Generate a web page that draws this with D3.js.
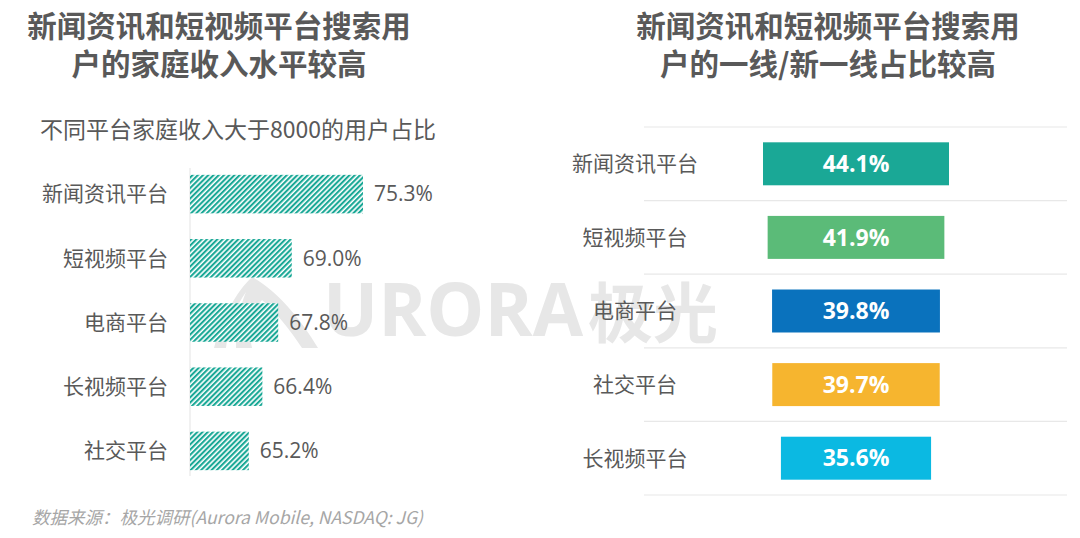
<!DOCTYPE html>
<html>
<head>
<meta charset="utf-8">
<script src="https://cdn.jsdelivr.net/npm/d3@7"></script>
<style>
  html, body { margin: 0; padding: 0; background: #fff; }
  svg { display: block; font-family: "Noto Sans CJK SC", "Noto Sans", sans-serif; }
</style>
</head>
<body>
<div id="chart"></div>
<script>
// left: share of users with household income > 8000
var incomeCats = ['新闻资讯平台', '短视频平台', '电商平台', '长视频平台', '社交平台'];
var incomeVals = [75.3, 69.0, 67.8, 66.4, 65.2];

// right: share of tier-1 / new tier-1 city users
var cityCats = ['新闻资讯平台', '短视频平台', '电商平台', '社交平台', '长视频平台'];
var cityVals = [44.1, 41.9, 39.8, 39.7, 35.6];
var cityColors = ['#1aa896', '#5bbb78', '#0a72bd', '#f6b52f', '#0bb9e2'];

var width = 1080, height = 538;
var textColor = '#595959';

var svg = d3.select('#chart').append('svg').attr('width', width).attr('height', height);

var defs = svg.append('defs');
var pat = defs.append('pattern').attr('id', 'hatch').attr('patternUnits', 'userSpaceOnUse')
    .attr('width', 3.7).attr('height', 3.7).attr('patternTransform', 'rotate(45)');
pat.append('rect').attr('width', 3.7).attr('height', 3.7).attr('fill', '#fff');
pat.append('rect').attr('width', 2.1).attr('height', 3.7).attr('fill', '#1aa896');

// watermark
var wm = svg.append('g').attr('fill', '#e7e7e7');
wm.append('path').attr('d', 'M214,348 C222,318 236,292 252,277 C276,290 300,318 318,348 L302,348 C290,330 276,312 262,300 C252,314 248,330 252,348 L236,348 C236,326 240,306 246,292 C236,306 228,326 226,348 Z');
wm.append('text').attr('x', 323).attr('y', 336).style('font-size', '73px').style('font-weight', 'bold')
    .style('font-family', '"Open Sans", sans-serif').text('URORA');
wm.append('text').attr('x', 588).attr('y', 337).style('font-size', '65px').style('font-weight', 'bold').text('极光');

// titles
function title(cx, lines) {
  svg.append('text').attr('x', cx).attr('text-anchor', 'middle')
    .style('font-size', '29.5px').style('font-weight', 'bold').attr('fill', textColor)
    .selectAll('tspan').data(lines).enter().append('tspan')
    .attr('x', cx).attr('y', function(d, i) { return 37 + i * 38; }).text(function(d) { return d; });
}
title(219, ['新闻资讯和短视频平台搜索用', '户的家庭收入水平较高']);
title(828, ['新闻资讯和短视频平台搜索用', '户的一线/新一线占比较高']);

svg.append('text').attr('x', 40).attr('y', 138).style('font-size', '23px').attr('fill', textColor)
    .text('不同平台家庭收入大于8000的用户占比');

// ---- left chart
var x1 = d3.scaleLinear().domain([60, 75.3]).range([190, 363]);
var y1 = d3.scaleBand().domain(incomeCats).range([162, 483]).paddingInner(0.4).paddingOuter(0.2);

svg.append('line').attr('x1', x1(60)).attr('x2', x1(60)).attr('y1', 168).attr('y2', 476)
    .attr('stroke', '#e3e3e3').attr('stroke-width', 1);

var lg = svg.append('g');
lg.selectAll('rect').data(incomeVals).enter().append('rect')
    .attr('x', x1(60)).attr('y', function(d, i) { return y1(incomeCats[i]); })
    .attr('width', function(d) { return x1(d) - x1(60); }).attr('height', y1.bandwidth())
    .attr('fill', 'url(#hatch)');
lg.selectAll('.val').data(incomeVals).enter().append('text').attr('class', 'val')
    .attr('x', function(d) { return x1(d) + 11; })
    .attr('y', function(d, i) { return y1(incomeCats[i]) + y1.bandwidth() / 2; })
    .attr('dy', '0.35em').style('font-size', '21px').attr('fill', textColor)
    .style('font-family', '"Open Sans", "Noto Sans", sans-serif')
    .text(function(d) { return d.toFixed(1) + '%'; });
lg.selectAll('.cat').data(incomeCats).enter().append('text').attr('class', 'cat')
    .attr('x', 168).attr('y', function(d) { return y1(d) + y1.bandwidth() / 2; })
    .attr('dy', '0.35em').attr('text-anchor', 'end').style('font-size', '21px').attr('fill', textColor)
    .text(function(d) { return d; });

// ---- right chart
var w2 = d3.scaleLinear().domain([0, 44.1]).range([0, 186]);
var y2 = d3.scaleBand().domain(cityCats).range([127, 495]).paddingInner(0.416).paddingOuter(0.208);
var cx2 = 856;

var gridY = cityCats.map(function(c) { return y2(c) - y2.step() * 0.208; });
gridY.push(gridY[gridY.length - 1] + y2.step());
svg.append('g').selectAll('line').data(gridY).enter().append('line')
    .attr('x1', 644).attr('x2', 1067).attr('y1', function(d) { return d; }).attr('y2', function(d) { return d; })
    .attr('stroke', '#e8e8e8').attr('stroke-width', 1.2);

var rg = svg.append('g');
rg.selectAll('rect').data(cityVals).enter().append('rect')
    .attr('x', function(d) { return cx2 - w2(d) / 2; })
    .attr('y', function(d, i) { return y2(cityCats[i]); })
    .attr('width', function(d) { return w2(d); }).attr('height', y2.bandwidth())
    .attr('fill', function(d, i) { return cityColors[i]; });
rg.selectAll('.val').data(cityVals).enter().append('text').attr('class', 'val')
    .attr('x', cx2).attr('y', function(d, i) { return y2(cityCats[i]) + y2.bandwidth() / 2; })
    .attr('dy', '0.36em').attr('text-anchor', 'middle').style('font-size', '23px').style('font-weight', 'bold')
    .style('font-family', '"Open Sans", "Noto Sans", sans-serif').attr('fill', '#fff')
    .text(function(d) { return d.toFixed(1) + '%'; });
rg.selectAll('.cat').data(cityCats).enter().append('text').attr('class', 'cat')
    .attr('x', 635).attr('y', function(d) { return y2(d) + y2.bandwidth() / 2; })
    .attr('dy', '0.35em').attr('text-anchor', 'middle').style('font-size', '21px').attr('fill', textColor)
    .text(function(d) { return d; });

// source
svg.append('text').attr('x', 32).attr('y', 524).style('font-size', '17.5px').style('font-style', 'italic')
    .attr('fill', '#a6a6a6').text('数据来源：极光调研(Aurora Mobile, NASDAQ: JG)');
</script>
</body>
</html>
